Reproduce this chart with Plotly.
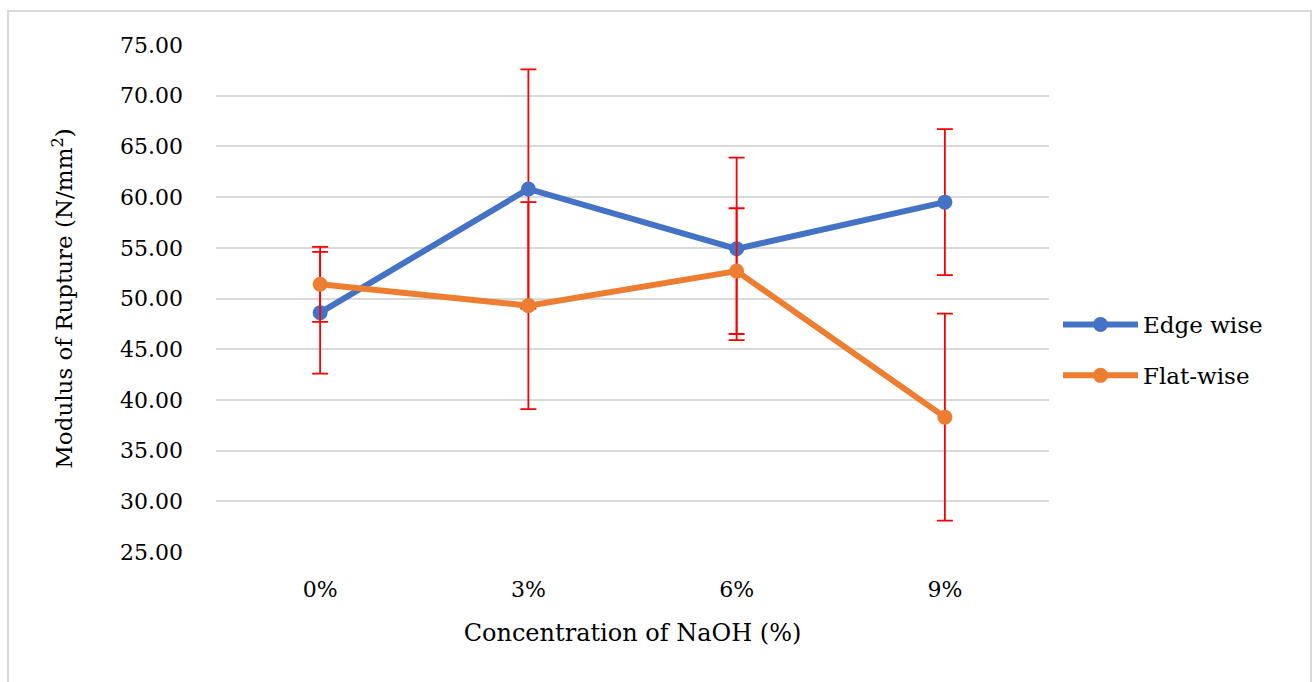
import plotly.graph_objects as go

categories = ["0%", "3%", "6%", "9%"]
edge_wise = [48.6, 60.8, 54.9, 59.5]
edge_err = [6.0, 11.8, 9.0, 7.2]
flat_wise = [51.4, 49.3, 52.7, 38.3]
flat_err = [3.7, 10.2, 6.2, 10.2]
y_ticks = [25, 30, 35, 40, 45, 50, 55, 60, 65, 70, 75]

FONT = "DejaVu Serif"
W, H = 1316, 682
L, R, T, B = 216, 267, 45, 130
pw, ph = W - L - R, H - T - B

fig = go.Figure()
for name, vals, errs, color in [
    ("Edge wise", edge_wise, edge_err, "#4472C4"),
    ("Flat-wise", flat_wise, flat_err, "#ED7D31"),
]:
    fig.add_trace(go.Scatter(
        x=categories, y=vals, name=name, mode="lines+markers",
        legendgroup=name,
        line=dict(color=color, width=6),
        marker=dict(color=color, size=15),
        error_y=dict(type="data", array=errs, visible=True,
                     color="#FF0000", thickness=1.8, width=8),
    ))

fig.update_layout(
    width=W, height=H,
    margin=dict(l=L, r=R, t=T, b=B),
    paper_bgcolor="white", plot_bgcolor="white",
    font=dict(family=FONT, size=22, color="#000000"),
    showlegend=True,
    legend=dict(x=(1058 - L) / pw, y=(552 - 350) / ph, xanchor="left", yanchor="middle",
                font=dict(family=FONT, size=23), itemwidth=75,
                traceorder="grouped", tracegroupgap=18,
                bgcolor="rgba(0,0,0,0)"),
    xaxis=dict(
        type="category", range=[-0.5, 3.5], showgrid=False, zeroline=False,
        showline=False, ticks="", tickfont=dict(family=FONT, size=22),
        ticklabelstandoff=22,
        title=dict(text="Concentration of NaOH (%)", font=dict(family=FONT, size=24), standoff=23),
    ),
    yaxis=dict(
        range=[25, 75], tickvals=y_ticks, tickformat=".2f",
        showgrid=True, gridcolor="#D9D9D9", gridwidth=1.5, zeroline=False,
        showline=False, ticks="", tickfont=dict(family=FONT, size=22),
        ticklabelstandoff=32,
        title=dict(text="Modulus of Rupture (N/mm<sup>2</sup>)", font=dict(family=FONT, size=23), standoff=40),
    ),
)

# outer chart border
fig.add_shape(type="rect", xref="paper", yref="paper",
              x0=(8 - L) / pw, x1=(1311 - L) / pw,
              y0=(552 - 720) / ph, y1=(552 - 11) / ph,
              line=dict(color="#D9D9D9", width=2), layer="below")

fig.write_html("out.html", config={"displayModeBar": False},
               post_script="document.body.style.margin='0px';")
